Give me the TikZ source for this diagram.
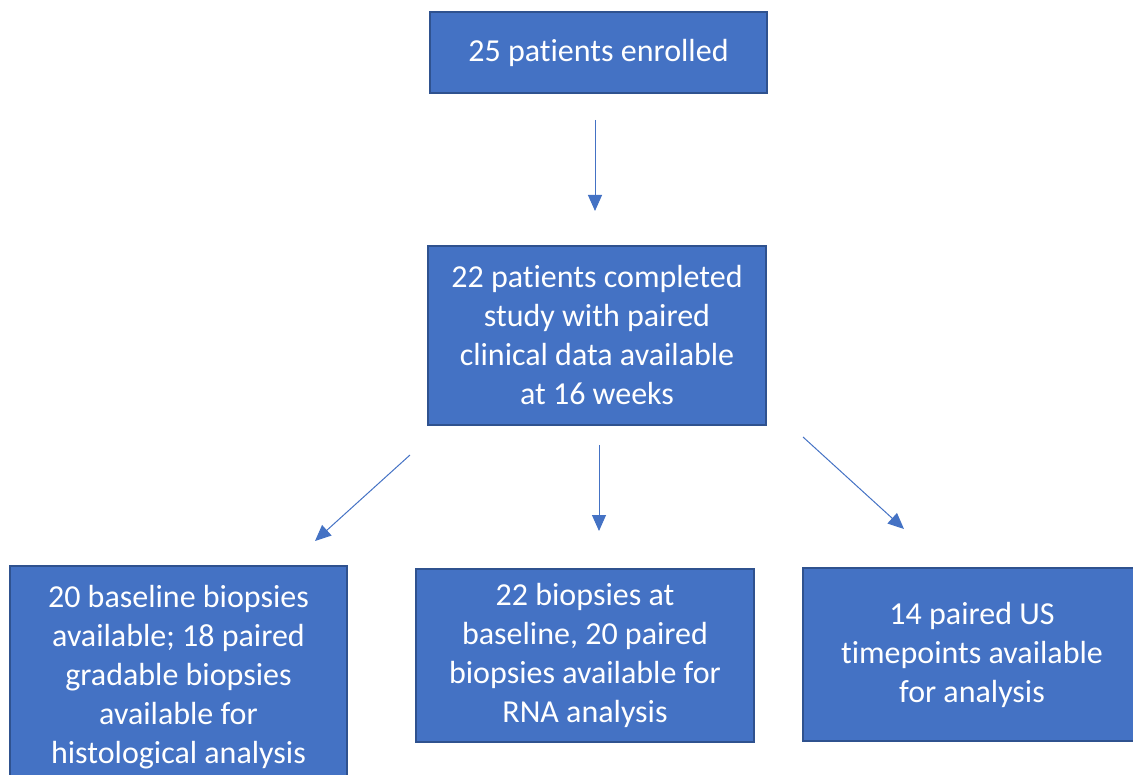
\documentclass[tikz,border=0pt]{standalone}
\usepackage{fontspec}
\setmainfont[RawFeature={-liga;-clig;-calt;-dlig}]{Carlito}
\usetikzlibrary{arrows.meta}
\definecolor{boxfill}{HTML}{4472C4}
\definecolor{boxline}{HTML}{2F528F}
\definecolor{arrcol}{HTML}{4472C4}
\begin{document}
\begin{tikzpicture}[x=1pt,y=-1pt,
  flowbox/.style={draw=boxline, line width=2pt, fill=boxfill, text=white,
    align=center, inner sep=0pt, font=\fontsize{32}{39}\selectfont},
  arr/.style={draw=arrcol, line width=1pt, -{Triangle[length=16pt,width=14pt]}}]
\path[use as bounding box] (0,0) rectangle (1133,775);
\clip (0,0) rectangle (1133,775);
\node[flowbox, minimum width=337pt, minimum height=81pt] (top) at (598.5,52.5) {25 patients enrolled};
\node[flowbox, minimum width=338pt, minimum height=179pt] (mid) at (597,335.5) {22 patients completed\\study with paired\\clinical data available\\at 16 weeks};
\node[flowbox, minimum width=337pt, minimum height=216pt, text depth=0pt] (b1) at (178.5,674) {20 baseline biopsies\\available; 18 paired\\gradable biopsies\\available for\\histological analysis};
\node[flowbox, minimum width=338pt, minimum height=173pt] (b2) at (585,655.5) {22 biopsies at\\baseline, 20 paired\\biopsies available for\\RNA analysis};
\node[flowbox, minimum width=338pt, minimum height=173pt] (b3) at (972,654.5) {14 paired US\\timepoints available\\for analysis};
\coordinate (a0s) at (595,120);
\coordinate (a0e) at (595,211);
\coordinate (a1s) at (410,455);
\coordinate (a1e) at (315,541);
\coordinate (a2s) at (599,445);
\coordinate (a2e) at (599,531);
\coordinate (a3s) at (803,437);
\coordinate (a3e) at (904,529);
\draw[arr] (a0s) -- (a0e);
\draw[arr] (a1s) -- (a1e);
\draw[arr] (a2s) -- (a2e);
\draw[arr] (a3s) -- (a3e);
\end{tikzpicture}
\end{document}
